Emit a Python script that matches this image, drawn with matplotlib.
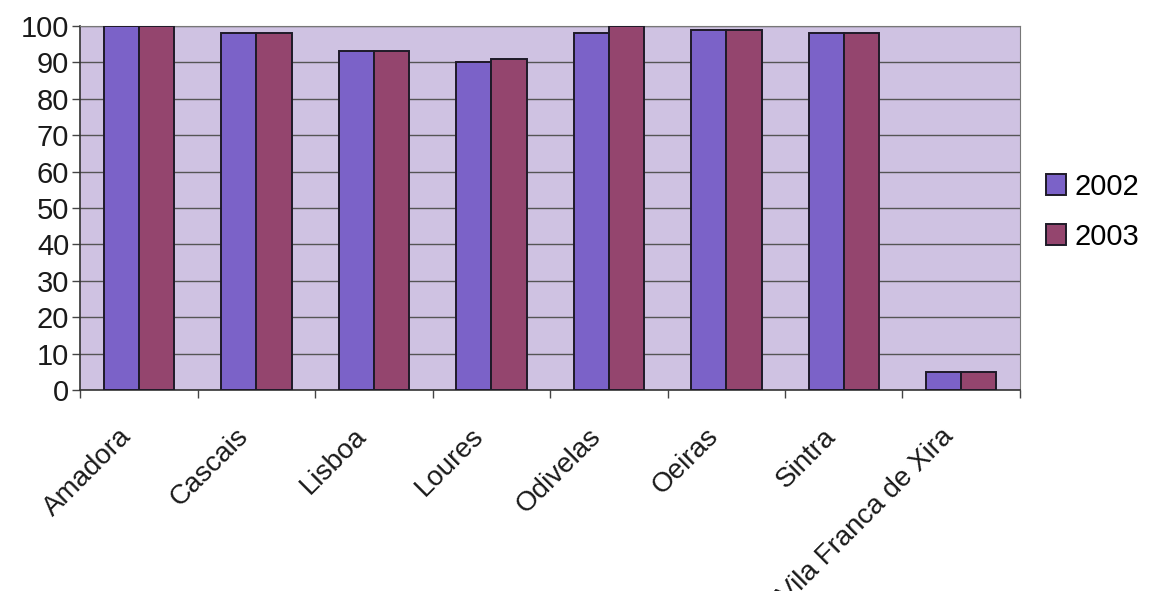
import numpy as np
import matplotlib.pyplot as plt
import matplotlib.transforms as mtransforms

plt.rcParams['font.family'] = ['Liberation Sans', 'DejaVu Sans']

# data
municipios = ['Amadora', 'Cascais', 'Lisboa', 'Loures', 'Odivelas',
              'Oeiras', 'Sintra', 'Vila Franca de Xira']
v2002 = [100, 98, 93, 90, 98, 99, 98, 5]
v2003 = [100, 98, 93, 91, 100, 99, 98, 5]
yticks = list(range(0, 101, 10))

fig = plt.figure(figsize=(11.63, 5.91), dpi=100)
ax = fig.add_axes([0.069, 0.340, 0.808, 0.616])
ax.set_facecolor('#cfc2e2')

x = np.arange(len(municipios))
w = 0.3
ax.bar(x - w/2, v2002, w, color='#7b62c8', edgecolor='#1e1a28', linewidth=1.4,
       label='2002', zorder=3)
ax.bar(x + w/2, v2003, w, color='#94456e', edgecolor='#1e1a28', linewidth=1.4,
       label='2003', zorder=3)

ax.set_xlim(-0.5, len(municipios) - 0.5)
ax.set_ylim(0, 100)
ax.set_yticks(yticks)
ax.tick_params(axis='y', labelsize=21, length=6, width=1, color='#444444',
               pad=2, labelcolor='#1a1a1a')
ax.grid(axis='y', color='#555555', linewidth=1, zorder=1)

# category labels in the middle, tick marks on the boundaries
ax.set_xticks(x)
ax.set_xticklabels(municipios, rotation=45, ha='right', rotation_mode='anchor',
                   fontsize=20, color='#1a1a1a')
ax.tick_params(axis='x', length=0, pad=24)
shift = mtransforms.ScaledTranslation(-21/100, 0, fig.dpi_scale_trans)
for lab in ax.get_xticklabels():
    lab.set_transform(lab.get_transform() + shift)
ax.set_xticks(np.arange(-0.5, len(municipios)), minor=True)
ax.tick_params(axis='x', which='minor', length=6, width=1, color='#444444')

for s in ['top', 'right']:
    ax.spines[s].set_color('#777777')
for s in ['left', 'bottom']:
    ax.spines[s].set_color('#333333')
    ax.spines[s].set_linewidth(1.2)

leg = ax.legend(loc='center left', bbox_to_anchor=(1.012, 0.49), frameon=False,
                fontsize=21, handlelength=0.7, handleheight=0.75,
                handletextpad=0.3, labelspacing=0.75, borderpad=0)

fig.savefig('out.png', dpi=100)
